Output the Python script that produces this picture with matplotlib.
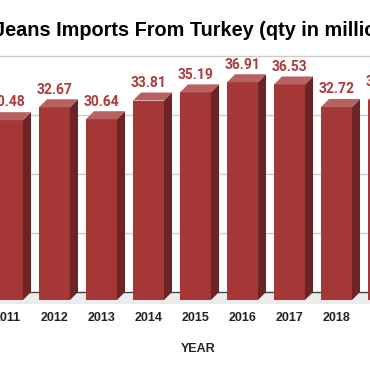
import numpy as np
import matplotlib.pyplot as plt
from matplotlib.patches import Polygon

years = ['2011', '2012', '2013', '2014', '2015', '2016', '2017', '2018', '2019']
qty = [30.48, 32.67, 30.64, 33.81, 35.19, 36.91, 36.53, 32.72, 33.9]
grid_vals = [10, 20, 30, 40]

front_c = '#a63737'
top_c = '#b86161'
side_c = '#6c2426'
label_c = '#ad3a3a'

# pixel scale of the original: 47 px per category, 5.9 px per unit
px_x = 47.0
px_y = 5.9
w = 31 / px_x
dx = 8 / px_x
dy = 8 / px_y

fig = plt.figure(figsize=(3.70, 3.71), dpi=100)
ax = fig.add_axes([0, 0, 1, 1])
ax.set_xlim(-7.5 / px_x, (370 - 7.5) / px_x)
ax.set_ylim((292 - 371) / px_y, 292 / px_y)
ax.axis('off')

x0, x1 = ax.get_xlim()
# floor
ax.add_patch(Polygon([(x0, 0), (x1, 0), (x1, -12 / px_y), (x0, -12 / px_y)],
                     closed=True, fc='#ececec', ec='none', zorder=1))
for g in grid_vals:
    ax.axhline(g, color='#cccccc', lw=1, zorder=1)
ax.axhline(0, color='#444444', lw=1, zorder=2)

for i, (yr, v) in enumerate(zip(years, qty)):
    l, r = i - w / 2, i + w / 2
    front = Polygon([(l, -dy), (r, -dy), (r, v - dy), (l, v - dy)],
                    closed=True, fc=front_c, ec='none', zorder=3)
    side = Polygon([(r, -dy), (r + dx, 0), (r + dx, v), (r, v - dy)],
                   closed=True, fc=side_c, ec='none', zorder=3)
    top = Polygon([(l, v - dy), (r, v - dy), (r + dx, v), (l + dx, v)],
                  closed=True, fc=top_c, ec='none', zorder=3)
    for p in (front, side, top):
        ax.add_patch(p)
    ax.text(i, v + 0.97, f'{v:.2f}', ha='center', va='baseline',
            fontsize=10, fontweight='bold', family='Roboto', color=label_c,
            zorder=4, clip_on=False)
    ax.text(i, -4.92, yr, ha='center', va='baseline', fontsize=9,
            fontweight='bold', family='Liberation Sans', color='#222222')

ax.text((198 - 7.5) / px_x, -10.1, 'YEAR', ha='center', va='baseline',
        fontsize=9, fontweight='bold', family='Liberation Sans', color='#222222')

fig.text(-6 / 370, 1 - 36 / 371, 'Jeans Imports From Turkey (qty in millions)',
         ha='left', va='baseline', fontsize=14.3, fontweight='bold',
         family='Liberation Sans', color='#000000')

fig.savefig('out.png', dpi=100)
